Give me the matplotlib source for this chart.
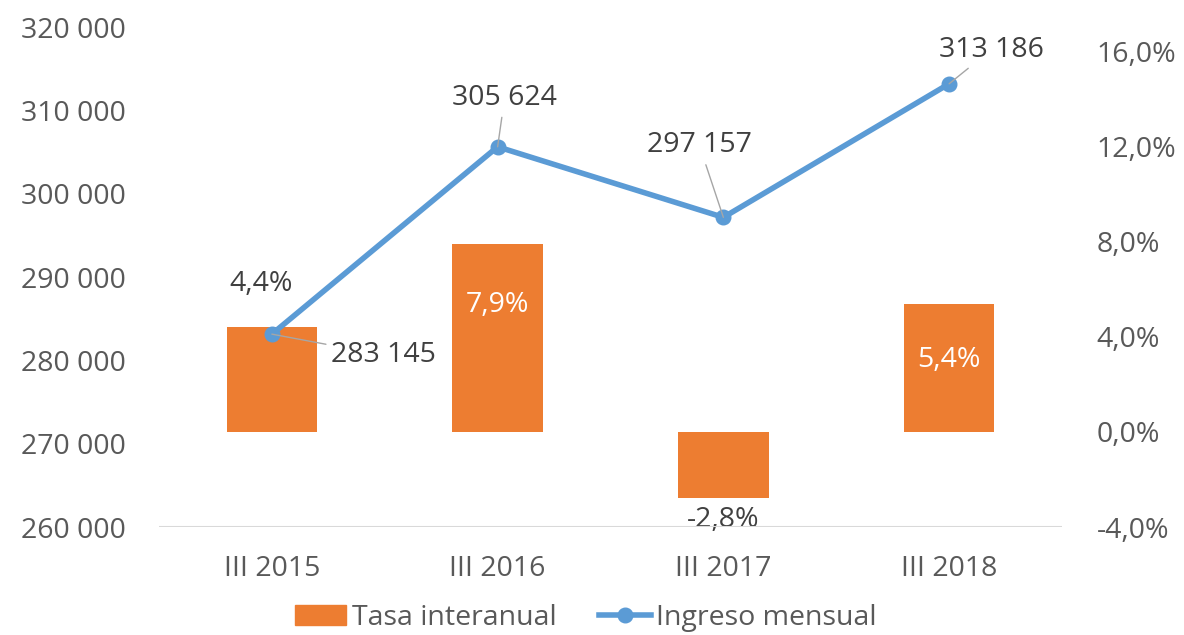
import matplotlib
matplotlib.use("Agg")
import matplotlib.pyplot as plt
from matplotlib.lines import Line2D
from matplotlib.patches import Patch

categories = ["III 2015", "III 2016", "III 2017", "III 2018"]
ingreso = [283145, 305624, 297157, 313186]
tasa = [4.4, 7.9, -2.8, 5.4]
ingreso_labels = ["283 145", "305 624", "297 157", "313 186"]
tasa_labels = ["4,4%", "7,9%", "-2,8%", "5,4%"]
left_ticks = [260000, 270000, 280000, 290000, 300000, 310000, 320000]
left_tick_labels = ["260 000", "270 000", "280 000", "290 000", "300 000", "310 000", "320 000"]
right_ticks = [-4, 0, 4, 8, 12, 16]
right_tick_labels = ["-4,0%", "0,0%", "4,0%", "8,0%", "12,0%", "16,0%"]

plt.rcParams['font.family'] = ['Open Sans', 'DejaVu Sans']
FS = 20.5
TICK_C = "#595959"
LAB_C = "#404040"
ORANGE = "#ED7D31"
BLUE = "#5B9BD5"

W, H = 1184, 635
fig = plt.figure(figsize=(W / 100, H / 100), dpi=100)
ax1 = fig.add_axes([159 / W, 1 - 527 / H, (1062 - 159) / W, (527 - 27) / H])
ax2 = ax1.twinx()

x = list(range(len(categories)))

# bars on secondary axis
ax2.bar(x, tasa, width=0.4, color=ORANGE, zorder=2)
ax2.set_ylim(-4, 17.05)
ax2.set_yticks(right_ticks)
ax2.set_yticklabels(right_tick_labels)

# line on primary axis, drawn above bars
ax1.set_zorder(ax2.get_zorder() + 1)
ax1.patch.set_visible(False)
ax1.plot(x, ingreso, color=BLUE, lw=4, marker="o", markersize=10.5, zorder=3,
         solid_capstyle="round")
ax1.set_ylim(260000, 320000)
ax1.set_yticks(left_ticks)
ax1.set_yticklabels(left_tick_labels)
ax1.set_xlim(-0.5, 3.5)
ax1.set_xticks(x)
ax1.set_xticklabels(categories)

for ax in (ax1, ax2):
    for s in ax.spines.values():
        s.set_visible(False)
    ax.tick_params(length=0, labelsize=FS, colors=TICK_C)
ax1.tick_params(axis="y", pad=24)
ax2.tick_params(axis="y", pad=25)
ax1.tick_params(axis="x", pad=20)
ax1.axhline(260000, color="#D9D9D9", lw=1.5, zorder=1)

# line data labels with leader lines
line_offsets = [(112, -21), (7, 49), (-24, 72), (42, 34)]
for xi, v, lab, off in zip(x, ingreso, ingreso_labels, line_offsets):
    ax1.annotate(lab, (xi, v), xytext=off, textcoords="offset pixels",
                 ha="center", va="center", fontsize=FS, color=LAB_C, zorder=5,
                 arrowprops=dict(arrowstyle="-", color="#A6A6A6", lw=1,
                                 shrinkA=2, shrinkB=0))

# bar data labels
bar_offsets = [(-11, 43), (0, -61), (0, -22), (0, -56)]
bar_colors = [LAB_C, "white", LAB_C, "white"]
for xi, v, lab, off, c in zip(x, tasa, tasa_labels, bar_offsets, bar_colors):
    ax2.annotate(lab, (xi, v), xytext=off, textcoords="offset pixels",
                 ha="center", va="center", fontsize=FS, color=c)

handles = [Patch(color=ORANGE),
           Line2D([], [], color=BLUE, lw=4, marker="o", markersize=10.5)]
fig.legend(handles, ["Tasa interanual", "Ingreso mensual"], loc="center",
           bbox_to_anchor=(586 / W, 1 - 618 / H), ncol=2, frameon=False,
           fontsize=FS, labelcolor=TICK_C, handlelength=1.8, handleheight=0.7,
           handletextpad=0.2, columnspacing=1.5, borderpad=0.0)

fig.savefig("out.png", dpi=100)
